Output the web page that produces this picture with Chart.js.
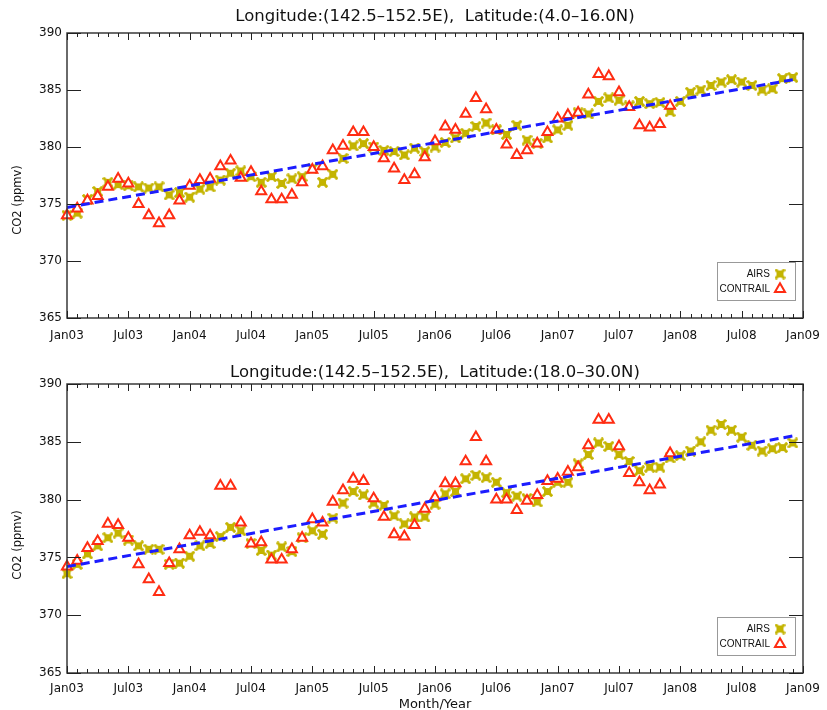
<!DOCTYPE html>
<html>
<head>
<meta charset="utf-8">
<script src="https://cdn.jsdelivr.net/npm/chart.js@4/dist/chart.umd.min.js"></script>
<style>
  html, body { margin: 0; padding: 0; background: #ffffff; }
  .panel { width: 827px; height: 355px; }
  canvas { display: block; }
</style>
</head>
<body>
<div class="panel"><canvas id="north4to16" width="827" height="355"></canvas></div>
<div class="panel"><canvas id="north18to30" width="827" height="355"></canvas></div>
<script>
// Half-year tick labels along the month axis (month 0 = Jan 2003)
const xTickLabels = ['Jan03', 'Jul03', 'Jan04', 'Jul04', 'Jan05', 'Jul05', 'Jan06',
                     'Jul06', 'Jan07', 'Jul07', 'Jan08', 'Jul08', 'Jan09'];
const yTicks = [365, 370, 375, 380, 385, 390];

// Longitude 142.5-152.5E, Latitude 4.0-16.0N : monthly CO2 (ppmv), Jan 2003 onward
const airs4to16 = [
  374.0, 374.2, 375.4, 376.1, 376.9, 376.7, 376.6, 376.5, 376.4, 376.5, 375.8, 376.0,
  375.6, 376.3, 376.5, 377.1, 377.7, 377.9, 377.4, 376.9, 377.4, 376.8, 377.2, 377.4,
  378.1, 376.9, 377.6, 379.0, 380.1, 380.3, 380.0, 379.7, 379.6, 379.3, 379.9, 379.6,
  380.0, 380.4, 380.8, 381.2, 381.8, 382.1, 381.5, 381.1, 381.9, 380.6, 380.3, 380.8,
  381.5, 381.9, 383.0, 382.9, 384.0, 384.3, 384.1, 383.6, 384.0, 383.8, 383.9, 383.1,
  384.0, 384.8, 385.0, 385.4, 385.7, 385.9, 385.7, 385.4, 385.0, 385.1, 386.0, 386.1
];
const contrail4to16 = [
  374.0, 374.6, 375.3, 375.7, 376.5, 377.2, 376.8, 375.0, 374.0, 373.3, 374.0, 375.3,
  376.6, 377.1, 377.2, 378.3, 378.8, 377.3, 377.8, 376.1, 375.4, 375.4, 375.8, 376.9,
  378.0, 378.3, 379.7, 380.1, 381.3, 381.3, 380.0, 379.0, 378.1, 377.1, 377.6, 379.1,
  380.5, 381.8, 381.5, 382.9, 384.3, 383.3, 381.5, 380.2, 379.3, 379.7, 380.3, 381.3,
  382.5, 382.8, 383.0, 384.6, 386.4, 386.2, 384.8, 383.5, 381.9, 381.7, 382.0, 383.6
];
const trendMonths = [0, 71];
const trend4to16 = [374.7, 385.9];

// Longitude 142.5-152.5E, Latitude 18.0-30.0N
const airs18to30 = [
  373.6, 374.4, 375.3, 376.0, 376.7, 377.1, 376.5, 376.0, 375.7, 375.7, 374.4, 374.5,
  375.1, 376.0, 376.2, 376.8, 377.6, 377.3, 376.2, 375.6, 375.2, 375.9, 375.5, 376.7,
  377.3, 377.0, 378.4, 379.7, 380.7, 380.4, 379.7, 379.5, 378.6, 377.9, 378.5, 378.5,
  379.6, 380.5, 380.7, 381.8, 382.1, 381.9, 381.5, 380.6, 380.3, 380.1, 379.8, 380.7,
  381.5, 381.5, 383.1, 383.9, 384.9, 384.6, 383.9, 383.3, 382.5, 382.8, 382.8, 383.6,
  383.8, 384.2, 385.0, 386.0, 386.5, 386.0, 385.4, 384.7, 384.2, 384.4, 384.5, 384.9
];
const contrail18to30 = [
  374.2, 374.7, 375.8, 376.4, 377.9, 377.8, 376.7, 374.4, 373.1, 372.0, 374.5, 375.7,
  376.9, 377.2, 376.9, 381.2, 381.2, 378.0, 376.2, 376.3, 374.8, 374.8, 375.7, 376.7,
  378.3, 378.0, 379.8, 380.8, 381.8, 381.6, 380.1, 378.5, 377.0, 376.8, 377.8, 379.2,
  380.2, 381.4, 381.4, 383.3, 385.4, 383.3, 380.0, 380.0, 379.1, 379.9, 380.4, 381.6,
  381.8, 382.4, 382.8, 384.7, 386.9, 386.9, 384.6, 382.3, 381.5, 380.8, 381.3, 384.0
];
const trend18to30 = [374.2, 385.5];

const AIRS_COLOR = '#c4b400';
const CONTRAIL_COLOR = '#ff2c12';
const TREND_COLOR = '#1c1cff';
const AXIS_FONT = "'DejaVu Sans', sans-serif";
const LEGEND_FONT = "'Liberation Sans', Arial, sans-serif";

// AIRS symbol: filled square crossed by a thick X (notched square look)
function makeAirsSymbol() {
  const c = document.createElement('canvas');
  c.width = 11; c.height = 11;
  const g = c.getContext('2d');
  g.fillStyle = AIRS_COLOR;
  g.strokeStyle = AIRS_COLOR;
  g.fillRect(2, 2, 7, 7);
  g.lineWidth = 3;
  g.beginPath();
  g.moveTo(0.8, 0.8); g.lineTo(10.2, 10.2);
  g.moveTo(10.2, 0.8); g.lineTo(0.8, 10.2);
  g.stroke();
  return c;
}
const airsSymbol = makeAirsSymbol();

// Frame, inward ticks, panel title, y-axis caption and boxed legend
const framePlugin = {
  id: 'idlFrame',
  afterDraw(chart, args, opts) {
    const { ctx, chartArea: a, scales: { x, y } } = chart;
    ctx.save();
    ctx.strokeStyle = '#3a3a3a';
    ctx.lineWidth = 1.5;
    ctx.strokeRect(a.left, a.top, a.right - a.left, a.bottom - a.top);

    ctx.lineWidth = 1;
    ctx.strokeStyle = '#222';
    ctx.beginPath();
    yTicks.forEach(v => {
      const py = Math.round(y.getPixelForValue(v)) + 0.5;
      ctx.moveTo(a.left, py); ctx.lineTo(a.left + 14, py);
      ctx.moveTo(a.right, py); ctx.lineTo(a.right - 14, py);
    });
    for (let m = 0; m <= 72; m++) {
      const px = Math.round(x.getPixelForValue(m)) + 0.5;
      const len = (m % 6 === 0) ? 7 : 4;
      ctx.moveTo(px, a.bottom); ctx.lineTo(px, a.bottom - len);
      ctx.moveTo(px, a.top); ctx.lineTo(px, a.top + len);
    }
    ctx.stroke();

    // panel title
    ctx.fillStyle = '#111';
    ctx.font = "16.5px " + AXIS_FONT;
    ctx.textAlign = 'center';
    ctx.textBaseline = 'middle';
    ctx.fillText(opts.title, (a.left + a.right) / 2, opts.titleY);

    // y-axis caption
    ctx.save();
    ctx.translate(18, opts.captionY);
    ctx.rotate(-Math.PI / 2);
    ctx.font = "11.5px " + AXIS_FONT;
    ctx.fillText('CO2 (ppmv)', 0, 0);
    ctx.restore();

    // legend box
    const bw = 78, bh = 38;
    const bx = a.right - 8 - bw;
    const by = a.bottom - 18 - bh;
    ctx.fillStyle = '#fff';
    ctx.fillRect(bx, by, bw, bh);
    ctx.strokeStyle = '#999';
    ctx.lineWidth = 1;
    ctx.strokeRect(bx + 0.5, by + 0.5, bw, bh);

    const items = [
      { text: 'AIRS', ds: chart.data.datasets[2] },
      { text: 'CONTRAIL', ds: chart.data.datasets[1] }
    ];
    ctx.font = "10px " + LEGEND_FONT;
    ctx.textAlign = 'right';
    items.forEach((it, i) => {
      const ry = by + 12 + i * 15;
      ctx.fillStyle = '#111';
      ctx.fillText(it.text, bx + bw - 25, ry);
      ctx.fillStyle = it.ds.backgroundColor;
      ctx.strokeStyle = it.ds.borderColor;
      ctx.lineWidth = it.ds.borderWidth;
      Chart.helpers.drawPoint(ctx, {
        pointStyle: it.ds.pointStyle,
        radius: it.ds.pointRadius,
        rotation: 0,
        borderWidth: it.ds.borderWidth
      }, bx + bw - 15, ry);
    });
    ctx.restore();
  }
};

function toPoints(values, months) {
  return values.map((v, i) => ({ x: months ? months[i] : i, y: v }));
}

function makePanel(id, cfg) {
  return new Chart(document.getElementById(id), {
    type: 'scatter',
    data: {
      datasets: [
        {
          label: 'trend',
          type: 'line',
          data: toPoints(cfg.trend, trendMonths),
          borderColor: TREND_COLOR,
          borderWidth: 3,
          borderDash: [9, 5],
          pointRadius: 0,
          fill: false,
          showLine: true,
          order: 0,
          clip: false
        },
        {
          label: 'CONTRAIL',
          data: toPoints(cfg.contrail),
          pointStyle: 'triangle',
          pointRadius: 5.8,
          borderColor: CONTRAIL_COLOR,
          backgroundColor: '#ffffff',
          borderWidth: 2,
          order: 1,
          clip: false
        },
        {
          label: 'AIRS',
          data: toPoints(cfg.airs),
          pointStyle: airsSymbol,
          pointRadius: 5,
          borderColor: AIRS_COLOR,
          backgroundColor: AIRS_COLOR,
          borderWidth: 0,
          order: 2,
          clip: false
        }
      ]
    },
    options: {
      responsive: false,
      animation: false,
      devicePixelRatio: 1,
      layout: { padding: { left: 0, right: 24, top: cfg.top, bottom: 0 } },
      plugins: {
        legend: { display: false },
        tooltip: { enabled: false },
        idlFrame: { title: cfg.title, titleY: cfg.titleY, captionY: cfg.captionY }
      },
      scales: {
        x: {
          type: 'linear',
          min: 0,
          max: 72,
          afterFit(s) { s.height = 37; s.paddingLeft = 0; s.paddingRight = 0; },
          afterBuildTicks(s) { s.ticks = xTickLabels.map((_, i) => ({ value: i * 6 })); },
          ticks: {
            autoSkip: false,
            maxRotation: 0,
            padding: cfg.xPad,
            color: '#111',
            font: { family: AXIS_FONT, size: 12 },
            callback: (v) => xTickLabels[Math.round(v / 6)]
          },
          grid: { display: false, drawTicks: false },
          border: { display: false },
          title: {
            display: cfg.xTitle,
            text: 'Month/Year',
            color: '#111',
            font: { family: AXIS_FONT, size: 13 },
            padding: { top: 0, bottom: -2 }
          }
        },
        y: {
          min: 365,
          max: 390,
          afterFit(s) { s.width = 67; },
          afterBuildTicks(s) { s.ticks = yTicks.map(v => ({ value: v })); },
          ticks: {
            padding: 5,
            color: '#111',
            font: { family: AXIS_FONT, size: 12 }
          },
          grid: { display: false, drawTicks: false },
          border: { display: false },
          title: { display: false }
        }
      }
    },
    plugins: [framePlugin]
  });
}

makePanel('north4to16', {
  title: 'Longitude:(142.5\u2013152.5E),  Latitude:(4.0\u201316.0N)',
  titleY: 17,
  captionY: 200,
  top: 33,
  xPad: 11,
  xTitle: false,
  airs: airs4to16,
  contrail: contrail4to16,
  trend: trend4to16
});

makePanel('north18to30', {
  title: 'Longitude:(142.5\u2013152.5E),  Latitude:(18.0\u201330.0N)',
  titleY: 18,
  captionY: 190,
  top: 29,
  xPad: 9,
  xTitle: true,
  airs: airs18to30,
  contrail: contrail18to30,
  trend: trend18to30
});
</script>
</body>
</html>
